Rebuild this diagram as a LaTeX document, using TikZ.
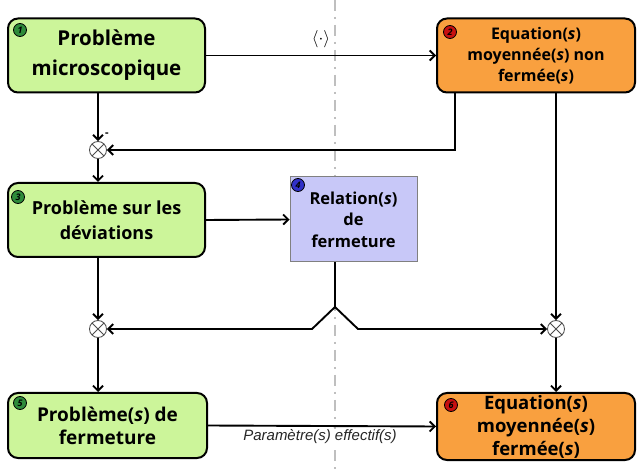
\documentclass[tikz,border=0pt]{standalone}
\usepackage{fontspec}
\setmainfont{Open Sans}
\newfontfamily\labfont{Liberation Sans}
\usetikzlibrary{arrows.meta}
\definecolor{gfill}{HTML}{CCF59A}
\definecolor{ofill}{HTML}{F9A03F}
\definecolor{bfill}{HTML}{C8C8F8}
\definecolor{bgreen}{HTML}{2E8B3A}
\definecolor{bred}{HTML}{C81010}
\definecolor{bblue}{HTML}{3030C8}
\begin{document}
\begin{tikzpicture}[x=1pt,y=-1pt,
  box/.style={draw=black, line width=2pt, rounded corners=10pt, inner sep=0pt, align=center, text=black},
  gbox/.style={box, fill=gfill},
  obox/.style={box, fill=ofill},
  rbox/.style={draw=gray, line width=1pt, fill=bfill, inner sep=0pt, align=center},
  badge/.style={circle, draw=black, line width=0.8pt, minimum size=13pt, inner sep=0pt, font=\fontsize{9}{9}\selectfont\bfseries\itshape},
  cross/.style={circle, draw=black!70, fill=white, line width=0.8pt, minimum size=17pt, inner sep=0pt,
    path picture={\draw[black!70, line width=0.8pt] (path picture bounding box.north west) -- (path picture bounding box.south east)
      (path picture bounding box.north east) -- (path picture bounding box.south west);}},
  arr/.style={line width=1.9pt, -{Straight Barb[length=5pt,width=10pt]}},
  ln/.style={line width=1.9pt}
]
\useasboundingbox (0,0) rectangle (643,470);
\fill[white] (0,0) rectangle (643,470);
\draw[black!25, line width=2pt, dash pattern=on 11pt off 6pt on 2pt off 6pt] (335,0) -- (335,470);

\node[gbox, minimum width=197pt, minimum height=74pt, font=\fontsize{20.5}{30}\selectfont\bfseries] (b1) at (106.5,55.5) {Problème\\microscopique};
\node[obox, minimum width=198pt, minimum height=74pt, font=\fontsize{16}{21}\selectfont\bfseries] (b2) at (536,55.5) {Equation(\textit{s})\\moyennée(\textit{s}) non\\fermée(\textit{s})};
\node[gbox, minimum width=197pt, minimum height=74pt, font=\fontsize{18}{25}\selectfont\bfseries] (b3) at (106.5,220) {Problème sur les\\déviations};
\node[rbox, minimum width=127pt, minimum height=85pt, font=\fontsize{16.5}{21.5}\selectfont\bfseries] (b4) at (353.5,219.5) {Relation(\textit{s})\\de\\fermeture};
\node[gbox, minimum width=199pt, minimum height=65pt, font=\fontsize{19}{23}\selectfont\bfseries] (b5) at (107.5,425.5) {Problème(\textit{s}) de\\fermeture};
\node[obox, minimum width=198pt, minimum height=67pt, font=\fontsize{18.5}{23}\selectfont\bfseries] (b6) at (536,426.5) {Equation(\textit{s})\\moyennée(\textit{s})\\fermée(\textit{s})};

\node[badge, fill=bgreen] (n1) at (20,30) {1};
\node[badge, fill=bred] (n2) at (450,32) {2};
\node[badge, fill=bgreen] (n3) at (18,197) {3};
\node[badge, fill=bblue] (n4) at (298,185) {4};
\node[badge, fill=bgreen] (n5) at (20,403) {5};
\node[badge, fill=bred] (n6) at (451,405) {6};

\node[cross] (c1) at (98,150) {};
\node[cross] (c2) at (98,329) {};
\node[cross] (c3) at (556,329) {};
\node[font=\fontsize{11}{11}\selectfont\bfseries] (minus) at (107,135) {-};

\draw[arr] (b1.east) -- node[above=3pt, font=\fontsize{18}{18}\selectfont] (avg) {$\langle\cdot\rangle$} (b2.west);
\draw[arr] (b1.south -| c1) -- (c1);
\coordinate (b2l) at (455,92);
\draw[arr] (b2l) |- (c1);
\draw[arr] (c1) -- (b3.north -| c1);
\draw[arr] (b3.east) -- (b4.west);
\draw[arr] (b3.south -| c2) -- (c2);
\coordinate (apex) at (335,307);
\coordinate (sl) at (312,329);
\coordinate (sr) at (358,329);
\draw[ln] (apex |- b4.south) -- (apex);
\draw[arr, line join=miter] (apex) -- (sl) -- (c2);
\draw[arr, line join=miter] (apex) -- (sr) -- (c3);
\draw[arr] (b2.south -| c3) -- (c3);
\draw[arr] (c2) -- (b5.north -| c2);
\draw[arr] (c3) -- (b6.north -| c3);
\draw[arr] (b5.east) -- (b6.west);
\node[font=\labfont\itshape\fontsize{15}{15}\selectfont, text=black!85, fill=white, inner sep=1pt] (par) at (320,437) {Paramètre(s) effectif(s)};
\end{tikzpicture}
\end{document}
